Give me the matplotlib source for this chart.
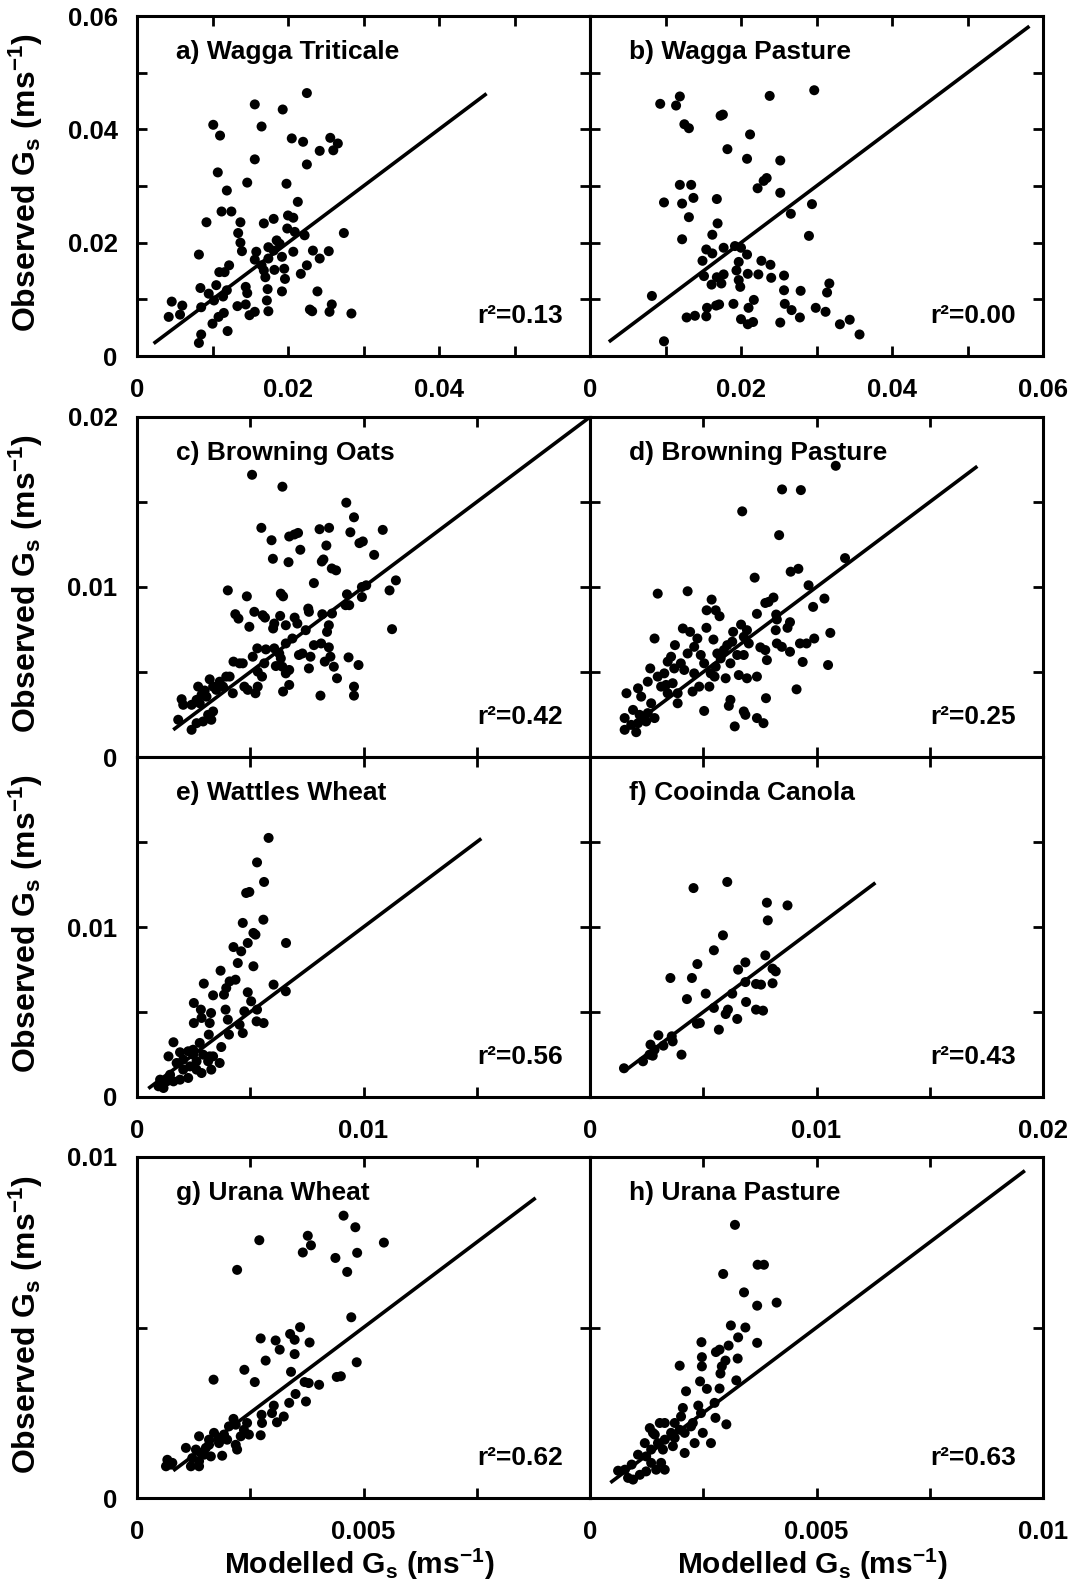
import numpy as np
import matplotlib
matplotlib.use('Agg')
import matplotlib.pyplot as plt
from matplotlib.ticker import FixedLocator, FuncFormatter

plt.rcParams['font.family'] = ['Liberation Sans', 'DejaVu Sans']
plt.rcParams['font.weight'] = 'bold'
plt.rcParams['mathtext.fontset'] = 'custom'
plt.rcParams['mathtext.rm'] = 'Liberation Sans:bold'
plt.rcParams['mathtext.it'] = 'Liberation Sans:bold'
plt.rcParams['mathtext.bf'] = 'Liberation Sans:bold'
plt.rcParams['mathtext.default'] = 'rm'

# ---------------- data (values in mm s-1, i.e. x 1e-3 m s-1) ----------------
mod_a = [22.5, 15.6, 19.3, 10.1, 16.5, 11.0, 20.5, 22.0, 25.6, 26.6,
         26.0, 24.2, 15.6, 22.5, 10.7, 14.6, 19.8, 11.9, 21.3, 11.2,
         12.5, 9.2, 13.7, 16.8, 18.1, 20.0, 20.7, 19.9, 13.4, 20.9,
         22.2, 27.4, 13.7, 18.5, 17.4, 18.9, 18.1, 19.2, 13.9, 15.8,
         20.7, 23.3, 25.4, 8.2, 15.6, 17.4, 24.2, 16.5, 12.2, 10.9,
         11.6, 16.8, 18.2, 19.5, 22.5, 17.0, 19.6, 21.7, 9.5, 10.5,
         8.4, 11.9, 14.4, 14.6, 19.2, 23.9, 17.3, 17.2, 4.6, 6.0,
         8.5, 10.2, 11.4, 13.3, 14.4, 25.8, 22.9, 23.2, 25.5, 28.4,
         17.4, 15.6, 14.9, 5.7, 4.2, 11.5, 10.8, 10.0, 12.0, 8.5, 8.2]
obs_a = [46.4, 44.4, 43.5, 40.8, 40.5, 38.9, 38.4, 37.8, 38.5, 37.5,
         36.3, 36.2, 34.7, 33.8, 32.4, 30.6, 30.4, 29.2, 27.2, 25.5,
         25.5, 23.6, 23.6, 23.4, 24.2, 24.8, 24.4, 22.5, 21.7, 21.9,
         21.3, 21.7, 20.0, 20.4, 19.2, 19.8, 18.6, 17.5, 18.5, 18.4,
         18.4, 18.6, 18.5, 17.9, 17.0, 17.2, 17.2, 16.0, 16.0, 14.8,
         14.8, 15.1, 15.2, 15.4, 16.0, 13.9, 13.6, 14.5, 11.0, 12.5,
         12.0, 11.6, 12.2, 11.1, 11.4, 11.4, 11.8, 9.8, 9.6, 8.9,
         8.6, 9.8, 10.5, 8.8, 9.1, 9.1, 8.2, 7.9, 7.8, 7.5,
         7.9, 7.8, 7.2, 7.3, 6.9, 7.6, 6.9, 5.7, 4.4, 3.8, 2.3]

mod_b = [9.3, 11.9, 11.4, 17.3, 17.6, 23.8, 29.7, 12.5, 13.1, 21.2,
         18.2, 20.8, 25.2, 23.4, 23.0, 22.2, 25.2, 11.9, 13.4, 9.8,
         12.2, 13.7, 16.8, 29.4, 26.6, 13.1, 16.9, 16.2, 12.2, 29.0,
         15.4, 17.7, 19.2, 20.0, 20.8, 16.2, 14.9, 19.7, 22.7, 23.9,
         19.4, 20.9, 22.3, 24.0, 25.7, 15.1, 16.8, 17.7, 17.4, 16.1,
         19.7, 19.9, 25.7, 27.9, 31.7, 31.4, 8.2, 21.7, 17.1, 16.7,
         19.0, 21.0, 25.8, 15.5, 26.7, 29.9, 31.2, 27.8, 12.8, 13.9,
         15.4, 20.0, 20.9, 21.6, 25.2, 33.1, 34.4, 35.7, 9.8]
obs_b = [44.5, 45.8, 44.2, 42.4, 42.6, 45.9, 46.9, 40.9, 40.2, 39.1,
         36.5, 34.8, 34.5, 31.4, 30.9, 29.6, 28.8, 30.2, 30.2, 27.1,
         26.9, 27.9, 27.7, 26.8, 25.1, 24.5, 23.4, 21.4, 20.6, 21.2,
         18.8, 19.1, 19.4, 19.1, 17.9, 18.1, 16.8, 16.6, 16.8, 16.1,
         15.1, 14.5, 14.4, 13.8, 14.2, 14.1, 13.9, 14.4, 12.8, 12.6,
         13.4, 12.2, 11.6, 11.5, 12.8, 11.2, 10.6, 9.9, 9.1, 8.9,
         9.2, 8.5, 9.2, 8.5, 8.1, 8.5, 7.8, 6.8, 6.8, 7.1,
         7.0, 6.5, 5.6, 6.0, 5.9, 5.6, 6.4, 3.8, 2.6]

mod_c = [5.08, 6.42, 9.24, 9.58, 5.49, 8.06, 8.48, 9.42, 10.85, 6.72,
         6.95, 7.11, 5.94, 8.36, 7.21, 9.82, 9.97, 6.00, 6.69, 8.16,
         8.23, 8.60, 8.79, 10.47, 7.81, 11.43, 11.15, 10.12, 9.93, 4.01,
         4.85, 6.35, 6.45, 9.27, 9.93, 9.21, 9.37, 7.56, 7.59, 5.18,
         4.34, 4.48, 5.55, 5.65, 6.32, 6.96, 8.18, 8.61, 6.06, 6.01,
         6.57, 7.08, 7.45, 4.96, 8.47, 8.39, 11.26, 6.86, 6.57, 7.81,
         8.13, 8.47, 5.31, 5.69, 6.06, 6.28, 6.35, 5.11, 7.30, 7.15,
         7.66, 8.54, 9.34, 8.29, 8.69, 9.78, 4.26, 4.67, 4.53, 5.62,
         5.33, 5.52, 6.13, 6.42, 6.57, 6.72, 7.59, 8.83, 3.94, 4.09,
         3.21, 3.65, 3.36, 3.50, 2.99, 2.70, 2.85, 3.07, 2.63, 2.77,
         2.41, 1.97, 2.04, 3.80, 4.23, 4.74, 4.89, 5.33, 5.23, 6.72,
         6.45, 8.10, 9.58, 9.58, 1.82, 2.41, 2.63, 2.92, 3.28, 3.36,
         3.14]
obs_c = [16.6, 15.9, 14.96, 14.10, 13.48, 13.40, 13.48, 13.22, 13.36, 12.97,
         13.09, 13.18, 12.75, 12.44, 12.19, 12.58, 12.68, 11.66, 11.46, 11.50,
         11.62, 11.09, 10.98, 11.89, 10.23, 10.39, 9.80, 10.10, 10.00, 9.80,
         9.45, 9.61, 9.45, 9.57, 9.41, 8.93, 8.93, 8.73, 8.54, 8.54,
         8.40, 8.14, 8.34, 8.20, 8.30, 8.20, 8.40, 8.44, 7.85, 7.56,
         7.75, 7.85, 7.46, 7.66, 7.75, 7.36, 7.52, 6.97, 6.68, 6.58,
         6.68, 6.45, 6.39, 6.33, 6.39, 6.09, 5.80, 5.90, 6.09, 6.00,
         5.90, 5.90, 5.86, 5.61, 5.31, 5.41, 5.61, 5.51, 5.51, 5.51,
         5.02, 4.73, 5.35, 5.31, 4.92, 5.12, 5.21, 4.63, 4.73, 4.73,
         4.57, 4.43, 4.14, 3.95, 3.91, 4.14, 3.65, 3.55, 3.36, 3.16,
         3.07, 3.40, 3.07, 4.14, 3.75, 4.14, 3.95, 4.14, 3.75, 4.24,
         3.85, 3.61, 4.14, 3.61, 2.19, 1.60, 1.99, 2.09, 2.19, 2.68,
         2.48]

mod_d = [10.85, 8.48, 9.31, 6.72, 8.35, 11.26, 8.86, 9.20, 7.27, 9.65,
         2.99, 4.31, 10.35, 9.85, 8.10, 7.74, 7.88, 5.37, 5.15, 5.55,
         5.72, 7.37, 8.22, 8.25, 8.83, 8.72, 6.67, 6.93, 8.20, 4.10,
         4.42, 5.14, 6.32, 10.61, 2.85, 4.74, 5.45, 6.06, 6.28, 6.79,
         7.01, 8.25, 8.47, 8.83, 9.27, 9.56, 9.90, 7.52, 7.74, 7.81,
         9.39, 10.51, 3.75, 4.60, 4.31, 3.58, 3.43, 4.01, 4.89, 5.04,
         5.62, 5.77, 5.91, 6.50, 6.79, 6.20, 5.55, 5.33, 4.60, 4.16,
         3.72, 3.28, 2.99, 2.66, 2.55, 2.12, 1.61, 2.26, 3.14, 3.43,
         3.87, 4.53, 4.82, 5.27, 5.50, 5.99, 6.57, 6.93, 7.37, 9.12,
         3.87, 5.04, 6.13, 6.20, 7.77, 6.79, 6.86, 7.37, 7.66, 6.39,
         1.53, 1.90, 2.19, 2.55, 2.85, 2.48, 2.12, 1.53, 2.04, 2.70,
         3.36, 3.65, 1.82]
obs_d = [17.13, 15.74, 15.70, 14.45, 13.05, 11.70, 10.90, 11.07, 10.55, 10.10,
         9.61, 9.75, 9.32, 8.83, 9.38, 9.06, 9.12, 9.26, 8.63, 8.63,
         8.28, 8.42, 8.38, 8.09, 7.93, 7.60, 7.79, 7.46, 7.46, 7.56,
         7.36, 7.60, 7.36, 7.30, 6.97, 6.97, 6.91, 6.58, 6.78, 7.07,
         6.68, 6.68, 6.48, 6.19, 6.68, 6.68, 6.97, 6.45, 6.29, 5.70,
         5.59, 5.41, 6.58, 6.48, 6.09, 5.90, 5.61, 5.51, 6.00, 5.51,
         6.09, 5.80, 6.29, 6.00, 6.00, 5.51, 5.31, 4.92, 4.92, 5.12,
         5.21, 4.92, 4.73, 5.21, 4.43, 4.04, 3.75, 3.55, 4.14, 3.75,
         3.75, 3.85, 4.14, 4.14, 4.73, 4.63, 4.82, 4.63, 4.73, 3.98,
         3.16, 2.71, 3.01, 3.36, 3.46, 2.68, 2.48, 2.29, 1.99, 1.80,
         2.29, 2.77, 2.48, 2.58, 2.29, 2.09, 1.99, 1.60, 1.46, 3.16,
         4.24, 4.34, 1.89]

mod_e = [5.81, 5.30, 5.61, 4.82, 4.96, 5.58, 4.67, 5.14, 5.23, 4.89,
         6.58, 4.26, 4.60, 4.45, 5.14, 3.69, 2.95, 4.35, 4.09, 3.94,
         3.84, 3.36, 6.03, 6.57, 4.89, 5.04, 2.51, 2.82, 3.27, 3.91,
         4.74, 5.30, 2.85, 3.21, 2.51, 4.01, 4.53, 4.67, 4.06, 5.28,
         5.59, 3.17, 1.61, 1.90, 1.39, 2.26, 2.77, 3.72, 2.48, 2.92,
         3.21, 3.65, 2.04, 1.75, 2.34, 2.63, 2.85, 3.28, 2.26, 1.90,
         1.61, 1.31, 1.02, 1.17, 0.95, 1.46, 2.04, 2.63, 3.14, 3.36,
         2.48]
obs_e = [15.24, 13.80, 12.65, 12.00, 12.06, 10.43, 10.24, 9.65, 9.55, 9.06,
         9.06, 8.82, 8.57, 7.88, 7.69, 7.43, 6.67, 6.90, 6.80, 6.41,
         6.02, 5.98, 6.61, 6.22, 6.16, 5.63, 5.53, 5.14, 4.94, 5.14,
         5.04, 5.14, 4.65, 4.35, 4.35, 4.55, 4.25, 3.76, 3.67, 4.45,
         4.35, 3.67, 3.22, 2.63, 2.39, 2.69, 3.18, 2.94, 2.49, 2.49,
         2.39, 2.00, 2.20, 2.00, 1.80, 1.61, 1.41, 1.61, 1.12, 1.02,
         0.92, 0.92, 1.02, 0.53, 0.63, 1.31, 1.61, 2.10, 2.10, 2.39,
         2.78]

mod_f = [6.06, 4.57, 7.81, 8.72, 7.85, 5.87, 5.47, 7.74, 6.86, 6.54,
         4.74, 8.06, 8.20, 3.55, 4.50, 6.86, 7.33, 7.55, 8.06, 6.28,
         5.11, 4.28, 6.89, 5.47, 6.09, 5.99, 7.33, 7.64, 6.50, 4.85,
         4.72, 5.69, 3.02, 3.61, 2.67, 3.24, 3.65, 2.85, 2.63, 2.77,
         2.34, 4.04, 1.50]
obs_f = [12.65, 12.29, 11.43, 11.27, 10.39, 9.51, 8.63, 8.33, 7.92, 7.49,
         7.82, 7.55, 7.39, 7.00, 7.00, 6.76, 6.65, 6.61, 6.69, 6.08,
         6.08, 5.76, 5.59, 5.24, 5.14, 4.88, 5.14, 5.08, 4.59, 4.35,
         4.31, 3.96, 3.63, 3.57, 3.08, 3.02, 3.27, 2.78, 2.49, 2.43,
         2.10, 2.49, 1.69]

mod_g = [4.56, 4.82, 3.77, 3.84, 2.70, 5.45, 3.66, 4.86, 4.38, 4.64,
         2.21, 4.73, 3.60, 2.73, 3.06, 3.38, 3.48, 3.81, 3.15, 3.48,
         2.84, 2.37, 3.40, 4.85, 1.69, 2.60, 4.41, 4.50, 3.70, 3.79,
         4.02, 3.50, 3.73, 3.36, 3.02, 2.75, 2.98, 3.24, 3.09, 2.76,
         2.43, 2.36, 2.13, 2.03, 2.18, 2.73, 2.47, 2.29, 1.92, 1.70,
         1.37, 1.59, 1.81, 1.99, 2.18, 2.21, 1.81, 1.59, 1.08, 1.30,
         1.41, 1.48, 1.63, 1.88, 1.22, 1.37, 1.19, 1.37, 0.78, 0.67,
         0.64, 0.75, 1.52]
obs_g = [8.28, 7.94, 7.69, 7.41, 7.56, 7.49, 7.20, 7.19, 7.04, 6.63,
         6.69, 5.30, 5.01, 4.68, 4.62, 4.81, 4.64, 4.56, 4.35, 4.22,
         4.03, 3.76, 3.70, 3.98, 3.47, 3.40, 3.55, 3.57, 3.40, 3.37,
         3.32, 3.05, 2.83, 2.79, 2.71, 2.44, 2.49, 2.39, 2.22, 2.20,
         2.20, 2.00, 2.32, 2.10, 2.15, 1.84, 1.86, 1.81, 1.86, 1.91,
         1.81, 1.71, 1.76, 1.71, 1.56, 1.42, 1.61, 1.56, 1.47, 1.42,
         1.32, 1.27, 1.22, 1.24, 1.17, 1.08, 0.93, 0.93, 1.03, 1.12,
         0.93, 0.98, 1.47]

mod_h = [3.20, 3.70, 3.84, 2.94, 3.40, 4.12, 3.69, 3.11, 3.43, 3.27,
         2.46, 3.69, 3.06, 2.86, 2.78, 2.47, 3.26, 2.99, 2.91, 2.47,
         1.98, 2.88, 2.43, 3.23, 2.58, 2.86, 2.12, 2.75, 2.39, 2.05,
         2.77, 3.01, 2.45, 2.27, 2.49, 2.31, 2.67, 2.01, 1.87, 1.65,
         1.54, 1.32, 1.43, 1.79, 1.98, 1.65, 1.50, 1.21, 1.35, 1.61,
         1.83, 2.09, 1.06, 1.24, 1.35, 1.57, 1.65, 1.46, 0.92, 0.77,
         0.62, 0.84, 0.95, 1.10, 1.24, 1.39, 2.09, 2.23, 1.87]
obs_h = [8.01, 6.84, 6.84, 6.57, 6.03, 5.73, 5.64, 5.06, 5.00, 4.71,
         4.57, 4.55, 4.47, 4.35, 4.28, 4.13, 4.09, 4.03, 3.86, 3.86,
         3.88, 3.65, 3.42, 3.45, 3.20, 3.21, 3.13, 2.79, 2.71, 2.64,
         2.35, 2.16, 2.49, 2.20, 1.91, 1.61, 1.61, 2.39, 2.20, 2.20,
         2.20, 2.05, 1.86, 1.91, 2.00, 1.71, 1.61, 1.61, 1.42, 1.42,
         1.52, 1.32, 1.27, 1.22, 1.03, 1.03, 0.83, 0.83, 0.98, 0.83,
         0.80, 0.59, 0.54, 0.68, 0.78, 1.91, 1.91, 2.10, 1.76]

titles = ['a) Wagga Triticale', 'b) Wagga Pasture', 'c) Browning Oats',
          'd) Browning Pasture', 'e) Wattles Wheat', 'f) Cooinda Canola',
          'g) Urana Wheat', 'h) Urana Pasture']
r2_values = ['0.13', '0.00', '0.42', '0.25', '0.56', '0.43', '0.62', '0.63']
# extent of the 1:1 line drawn in each panel (mm s-1)
line_lo = [2.2, 2.5, 1.6, 1.5, 0.5, 1.6, 0.8, 0.45]
line_hi = [46.3, 58.2, 20.0, 17.1, 15.2, 12.6, 8.8, 9.6]

# per-row axis settings (m s-1)
row_lim = [0.06, 0.02, 0.02, 0.01]
row_xtick_step = [0.01, 0.005, 0.005, 0.0025]
row_ytick_step = [0.01, 0.005, 0.005, 0.005]
xlabels_left = [[0, 0.02, 0.04], [], [0, 0.01], [0, 0.005]]
xlabels_right = [[0, 0.02, 0.04, 0.06], [], [0, 0.01, 0.02], [0, 0.005, 0.01]]
ylabels_left = [[0, 0.02, 0.04, 0.06], [0, 0.01, 0.02], [0, 0.01], [0, 0.01]]

mods = [mod_a, mod_b, mod_c, mod_d, mod_e, mod_f, mod_g, mod_h]
obss = [obs_a, obs_b, obs_c, obs_d, obs_e, obs_f, obs_g, obs_h]

# ---------------- layout ----------------
W, H = 1073, 1584
fig = plt.figure(figsize=(W / 100, H / 100), dpi=100)
col_left = [137, 590]
col_w = 453
row_top = [16, 417, 757, 1157]
row_h = [340, 340, 340, 341]

def make_fmt(labels):
    def f(v, pos):
        for l in labels:
            if abs(v - l) < 1e-9:
                return f'{l:g}'
        return ''
    return FuncFormatter(f)

axes = []
for i in range(8):
    r, c = divmod(i, 2)
    l = col_left[c] / W
    b = 1 - (row_top[r] + row_h[r]) / H
    ax = fig.add_axes([l, b, col_w / W, row_h[r] / H])
    axes.append(ax)
    lim = row_lim[r]
    ax.set_xlim(0, lim)
    ax.set_ylim(0, lim)
    xt = np.arange(0, lim + 1e-12, row_xtick_step[r])
    yt = np.arange(0, lim + 1e-12, row_ytick_step[r])
    ax.xaxis.set_major_locator(FixedLocator(xt))
    ax.yaxis.set_major_locator(FixedLocator(yt))
    xl = xlabels_left[r] if c == 0 else xlabels_right[r]
    ax.xaxis.set_major_formatter(make_fmt(xl))
    ax.yaxis.set_major_formatter(make_fmt(ylabels_left[r] if c == 0 else []))
    ax.tick_params(axis='both', direction='in', length=7.5, width=2,
                   top=True, right=True, labelsize=18.5, color='black')
    ax.tick_params(axis='x', pad=15.5)
    ax.tick_params(axis='y', pad=14)
    for lbl in ax.get_xticklabels() + ax.get_yticklabels():
        lbl.set_fontweight('bold')
    for s in ax.spines.values():
        s.set_linewidth(2.2)

    x = np.array(mods[i]) * 1e-3
    y = np.array(obss[i]) * 1e-3
    ax.scatter(x, y, s=52, c='black', edgecolors='none', zorder=3)
    lo, hi = line_lo[i] * 1e-3, line_hi[i] * 1e-3
    ax.plot([lo, hi], [lo, hi], color='black', lw=2.6, solid_capstyle='butt', zorder=2)

    ax.text(0.086, 0.874, titles[i], transform=ax.transAxes, fontsize=19,
            fontweight='bold', ha='left', va='baseline')
    ax.text(0.94, 0.097, 'r\u00b2=' + r2_values[i], transform=ax.transAxes,
            fontsize=19, fontweight='bold', ha='right', va='baseline')

# y-axis labels (one per row)
for r in range(4):
    yc = 1 - (row_top[r] + row_h[r] / 2 - 3) / H
    fig.text(26 / W, yc, 'Observed G$_{s}$ (ms$^{-1}$)', rotation=90,
             ha='center', va='center', fontsize=23, fontweight='bold')

# x-axis labels (bottom)
for c in range(2):
    xc = (col_left[c] + col_w / 2 - 4) / W
    fig.text(xc, 1 - 1574 / H, 'Modelled G$_{s}$ (ms$^{-1}$)', ha='center',
             va='baseline', fontsize=21.5, fontweight='bold')

fig.savefig('out.png', dpi=100)
